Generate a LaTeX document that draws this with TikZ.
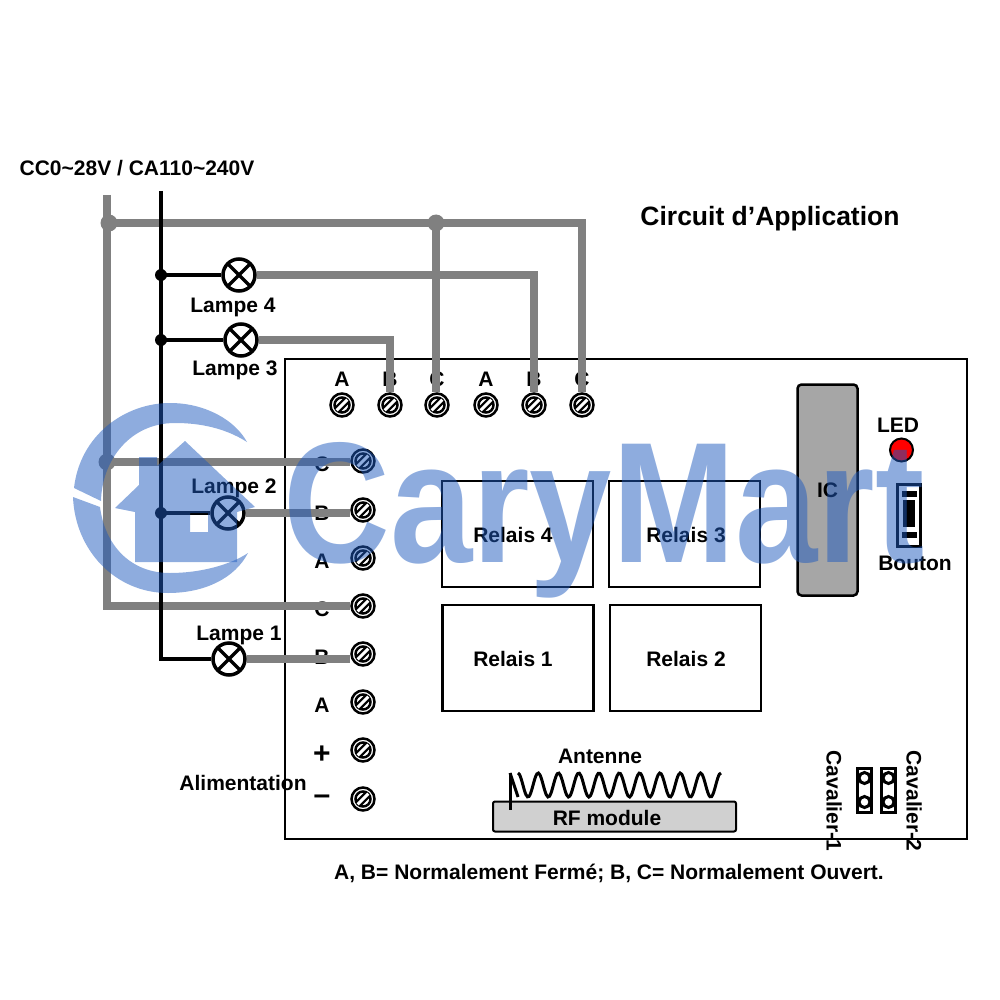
\documentclass[tikz,border=0pt]{standalone}
\usepackage{fontspec}
\setmainfont{Liberation Sans}
\usepackage{xcolor}
\usetikzlibrary{positioning, calc}

\tikzset{
    lbl/.style={font=\fontsize{21}{21}\selectfont\bfseries, inner sep=0pt},
    graywire/.style={line width=8pt, draw=wiregray},
    blackwire/.style={line width=3.3pt, draw=black},
    lamp/.style={circle, draw=black, fill=white, line width=3.5pt, minimum size=32pt, inner sep=0pt,
        path picture={
            \draw[line width=3.5pt] (path picture bounding box.north west) -- (path picture bounding box.south east);
            \draw[line width=3.5pt] (path picture bounding box.north east) -- (path picture bounding box.south west);
        }},
    screw/.style={circle, draw=black, fill=white, line width=2.5pt, minimum size=23pt, inner sep=0pt,
        path picture={
            \draw[line width=2.5pt] (path picture bounding box.center) circle (7.5pt);
            \draw[line width=7.5pt] ($(path picture bounding box.center)+(-5.3,5.3)$) -- ($(path picture bounding box.center)+(5.3,-5.3)$);
            \draw[line width=3pt, white] ($(path picture bounding box.center)+(-5.3,5.3)$) -- ($(path picture bounding box.center)+(5.3,-5.3)$);
        }},
    relay/.style={draw=black, line width=2.2pt, fill=white, inner sep=0pt, minimum width=151pt, minimum height=106pt},
    dot/.style={circle, fill=black, minimum size=12pt, inner sep=0pt},
    graydot/.style={circle, fill=wiregray, minimum size=17pt, inner sep=0pt},
    jumper/.style={draw=black, line width=3.5pt, fill=white, minimum width=14pt, minimum height=44pt, inner sep=0pt},
    hole/.style={circle, draw=black, line width=3pt, fill=white, minimum size=11pt, inner sep=0pt},
}

\begin{document}
\begin{tikzpicture}[x=1pt, y=-1pt]
    % Couleurs
    \definecolor{wiregray}{RGB}{128, 128, 128}
    \definecolor{icgray}{RGB}{166, 166, 166}
    \definecolor{rfgray}{RGB}{208, 208, 208}
    \definecolor{markblue}{RGB}{30, 90, 190}

    \useasboundingbox (0, 0) rectangle (1000, 1000);

    % 1. Carte et composants
    \node[draw=black, line width=2.5pt, minimum width=682pt, minimum height=480pt, inner sep=0pt] (board) at (626, 599) {};
    \node[relay] (relais4) at (517.5, 534) {};
    \node[relay] (relais3) at (684.5, 534) {};
    \node[relay] (relais1) at (518, 658) {};
    \node[relay] (relais2) at (685.5, 658) {};
    \node[lbl] (relais4lbl) at (513, 535) {Relais 4};
    \node[lbl] (relais3lbl) at (686, 535) {Relais 3};
    \node[lbl] (relais1lbl) at (513, 659) {Relais 1};
    \node[lbl] (relais2lbl) at (686, 659) {Relais 2};
    \node[lbl, draw=black, line width=2.5pt, fill=icgray, rounded corners=4pt, minimum width=60pt, minimum height=211pt] (ic) at (827.5, 490) {IC};

    \node[lbl] (ledlbl) at (898, 425) {LED};
    \node[circle, draw=black, line width=2pt, fill=red, minimum size=23pt, inner sep=0pt] (led) at (901.5, 450) {};

    \node[draw=black, line width=3pt, fill=white, minimum width=23pt, minimum height=62pt, inner sep=0pt] (bouton) at (908.5, 515) {};
    \fill (902, 491) rectangle (917, 497);
    \fill (903, 500) rectangle (915, 527);
    \fill (902, 532) rectangle (917, 538);
    \node[lbl] (boutonlbl) at (915, 563) {Bouton};

    % 2. Antenne et module RF
    \node[lbl] (antennelbl) at (600, 756) {Antenne};
    \node[lbl, draw=black, line width=2pt, fill=rfgray, rounded corners=2pt, minimum width=243pt, minimum height=30pt] (rf) at (614.5, 816.5) {};
    \node[lbl] (rflbl) at (607, 818) {RF module};
    \draw[line width=3pt, smooth, samples=130, domain=518:721] plot (\x, {785 + 12*cos((\x-528)/20.3*360)});
    \draw[line width=3pt] (510, 773) -- (510, 810);
    \draw[line width=3pt] (510, 773) -- (518, 797);

    % 3. Cavaliers
    \node[jumper] (cav1) at (864.5, 790.5) {};
    \node[jumper] (cav2) at (888.5, 790.5) {};
    \foreach \jx in {864.5, 888.5} {
        \node[hole] at (\jx, 778) {};
        \node[hole] at (\jx, 802) {};
    }
    \node[lbl, rotate=-90] (cav1lbl) at (834, 801) {Cavalier-1};
    \node[lbl, rotate=-90] (cav2lbl) at (914, 801) {Cavalier-2};

    % 4. Bornes et lettres
    \foreach \lab/\px [count=\i] in {A/342, B/390, C/437, A/486, B/534, C/582} {
        \node[lbl] at (\px, 379) {\lab};
        \node[screw] (top\i) at (\px, 405) {};
    }
    \foreach \lab/\py [count=\i] in {C/461, B/510, A/558, C/606, B/654, A/702} {
        \node[lbl] at (322, \py+3) {\lab};
        \node[screw] (side\i) at (363, \py) {};
    }
    \node[font=\fontsize{30}{30}\selectfont\bfseries, inner sep=0pt] (pluslbl) at (322, 755) {+};
    \node[font=\fontsize{30}{30}\selectfont\bfseries, inner sep=0pt] (minuslbl) at (322, 800) {\textendash};
    \node[screw] (plus) at (363, 750) {};
    \node[screw] (minus) at (363, 799) {};
    \node[lbl] (alimlbl) at (243, 783) {Alimentation};

    % 5. Lampes
    \node[lamp] (lampe4) at (239, 275) {};
    \node[lamp] (lampe3) at (241, 340) {};
    \node[lamp] (lampe2) at (228, 513) {};
    \node[lamp] (lampe1) at (229, 659) {};
    \node[lbl] (lampe4lbl) at (233, 307) {Lampe 4};
    \node[lbl] (lampe3lbl) at (235, 370) {Lampe 3};
    \node[lbl] (lampe2lbl) at (234, 488) {Lampe 2};
    \node[lbl] (lampe1lbl) at (239, 635) {Lampe 1};

    % 6. Fils
    \coordinate (graytop) at (107, 195);
    \coordinate (blacktop) at (161, 191);
    \coordinate (graycorner) at (107, 606);
    \coordinate (blackcorner) at (161, 659);
    \node[graydot] (junca) at (109, 223) {};
    \node[graydot] (juncb) at (436, 223) {};
    \node[graydot] (juncc) at (107, 462) {};
    \node[dot] (dot4) at (161, 275) {};
    \node[dot] (dot3) at (161, 340) {};
    \node[dot] (dot2) at (161, 513) {};

    \draw[graywire] (graytop) -- (graycorner) -- (side4);
    \draw[graywire] (junca.center) -| (top6);
    \draw[graywire] (juncb.center) -- (juncb |- top3.north);
    \draw[graywire] (lampe4) -| (top5);
    \draw[graywire] (lampe3) -| (top2);
    \draw[graywire] (juncc.center) -- (juncc -| side1.west);
    \draw[graywire] (lampe2) -- (lampe2 -| side2.west);
    \draw[graywire] (lampe1) -- (lampe1 -| side5.west);
    \draw[blackwire] (blacktop) -- (blackcorner) -- (lampe1);
    \draw[blackwire] (dot4.center) -- (lampe4);
    \draw[blackwire] (dot3.center) -- (lampe3);
    \draw[blackwire] (dot2.center) -- (lampe2);

    % 7. Titres
    \node[font=\fontsize{26.5}{26.5}\selectfont\bfseries, inner sep=0pt] (titre) at (770, 219) {Circuit d’Application};
    \node[lbl] (tension) at (137, 168) {CC0\textasciitilde 28V / CA110\textasciitilde 240V};
    \node[lbl] (legende) at (609, 873) {A, B= Normalement Fermé; B, C= Normalement Ouvert.};

    % 8. Filigrane
    \begin{scope}[opacity=0.5]
        \fill[markblue] (74, 488) .. controls (80, 435) and (125, 403) .. (170, 403) .. controls (205, 403) and (235, 420) .. (247, 442) .. controls (225, 428) and (200, 423) .. (175, 423) .. controls (130, 423) and (102, 460) .. (101, 501) -- cycle;
        \fill[markblue] (73, 497) -- (100, 507) .. controls (105, 545) and (130, 573) .. (170, 573) .. controls (200, 573) and (230, 565) .. (248, 553) .. controls (235, 578) and (205, 593) .. (168, 593) .. controls (115, 593) and (75, 550) .. (73, 497) -- cycle;
        \fill[markblue, even odd rule] (185, 441) -- (255, 507) -- (237, 512) -- (237, 562) -- (135, 562) -- (135, 512) -- (115, 508) -- (139, 485) -- (139, 457) -- (157, 457) -- (157, 466) -- cycle
            (190, 513) rectangle (208, 532);
        \node[text=markblue, font=\fontsize{172}{172}\selectfont\bfseries, inner sep=0pt, anchor=base, xscale=0.86] (mark) at (604, 562) {CaryMart};
    \end{scope}
\end{tikzpicture}
\end{document}
